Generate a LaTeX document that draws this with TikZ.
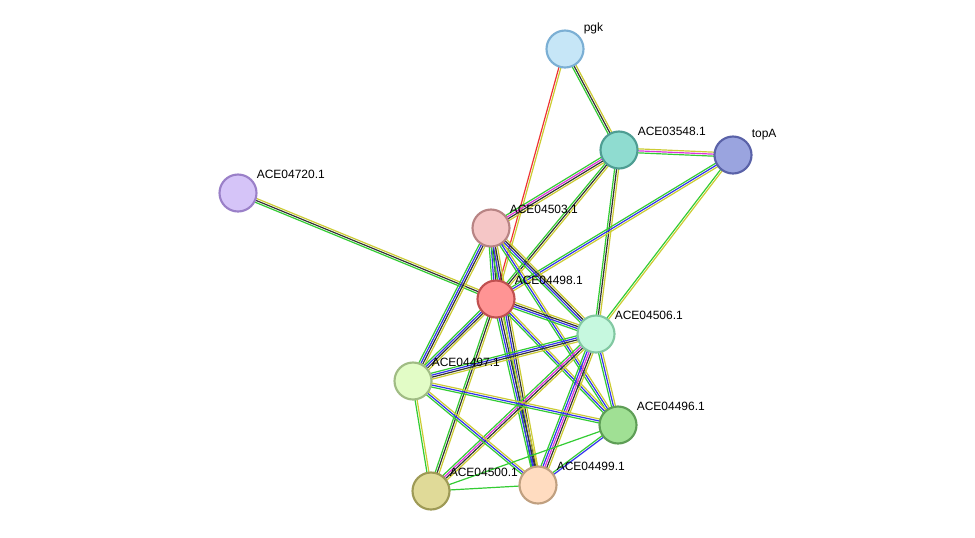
\documentclass[tikz,border=0pt]{standalone}
\usepackage{fontspec}
\setmainfont{Liberation Sans}
\usetikzlibrary{calc}
\definecolor{eGreen}{HTML}{33CC33}
\definecolor{eYellow}{HTML}{CCCC33}
\definecolor{eBlue}{HTML}{3333EE}
\definecolor{eMag}{HTML}{DD33DD}
\definecolor{eRed}{HTML}{EE3333}
\definecolor{eDark}{HTML}{333333}
\definecolor{bPgk}{HTML}{7BAFD4}\definecolor{fPgk}{HTML}{C6E6F7}
\definecolor{bA}{HTML}{4E9E93}\definecolor{fA}{HTML}{8FDCD0}
\definecolor{bTop}{HTML}{5A62A8}\definecolor{fTop}{HTML}{9AA4DF}
\definecolor{bB}{HTML}{9A80C8}\definecolor{fB}{HTML}{D5C4F8}
\definecolor{bC}{HTML}{B88484}\definecolor{fC}{HTML}{F5C6C6}
\definecolor{bD}{HTML}{C05050}\definecolor{fD}{HTML}{FF9494}
\definecolor{bE}{HTML}{82C8A2}\definecolor{fE}{HTML}{C6F8DF}
\definecolor{bF}{HTML}{A0BC84}\definecolor{fF}{HTML}{E2FCC6}
\definecolor{bG}{HTML}{5E9E56}\definecolor{fG}{HTML}{A0E094}
\definecolor{bH}{HTML}{9E9A56}\definecolor{fH}{HTML}{E0DA98}
\definecolor{bI}{HTML}{C0A080}\definecolor{fI}{HTML}{FFDCC0}
\tikzset{
  prot/.style 2 args={circle, draw=#1, fill=#2, line width=1.6pt, minimum size=37\pxu, inner sep=0pt},
  lab/.style={label={[label distance=-4pt, xshift=3pt, font=\fontsize{9}{10}\selectfont]45:#1}},
}
\newlength{\pxu}\setlength{\pxu}{0.75pt}
% draws parallel coloured lines between two nodes
\newcommand{\edge}[3]{%
  \foreach \c [count=\i] in {#3} {\global\let\ncol\i}%
  \foreach \c [count=\i] in {#3} {
    \pgfmathsetmacro{\off}{(\i-(\ncol+1)/2)*1.5}
    \draw[\c, line width=0.9pt] ($(#1)!\off pt!90:(#2)$) -- ($(#2)!\off pt!-90:(#1)$);
  }}
\begin{document}
\begin{tikzpicture}[x=0.75pt, y=-0.75pt]
\useasboundingbox (0,0) rectangle (975,537);
% positions
\coordinate (pgk) at (565,49);
\coordinate (c548) at (619,150);
\coordinate (topA) at (733,155);
\coordinate (c720) at (238,193);
\coordinate (c503) at (491,228);
\coordinate (c498) at (496,299);
\coordinate (c506) at (596,334);
\coordinate (c497) at (413,381);
\coordinate (c496) at (618,425);
\coordinate (c500) at (431,491);
\coordinate (c499) at (538,485);
% edges
\edge{pgk}{c548}{eGreen,eDark,eYellow}
\edge{pgk}{c498}{eRed,eYellow}
\edge{c548}{topA}{eGreen,eMag,eYellow}
\edge{c548}{c503}{eGreen,eMag,eDark,eYellow}
\edge{c548}{c498}{eGreen,eDark,eYellow}
\edge{c548}{c506}{eGreen,eDark,eYellow}
\edge{topA}{c498}{eGreen,eBlue,eYellow}
\edge{topA}{c506}{eGreen,eYellow}
\edge{c720}{c498}{eGreen,eDark,eYellow}
\edge{c503}{c498}{eGreen,eBlue,eDark,eYellow}
\edge{c503}{c497}{eGreen,eBlue,eDark,eYellow}
\edge{c503}{c506}{eGreen,eBlue,eDark,eYellow}
\edge{c503}{c496}{eGreen,eBlue,eYellow}
\edge{c503}{c499}{eGreen,eBlue,eDark,eYellow}
\edge{c498}{c506}{eGreen,eBlue,eDark,eYellow}
\edge{c498}{c497}{eGreen,eBlue,eDark,eYellow}
\edge{c498}{c496}{eGreen,eBlue,eYellow}
\edge{c498}{c499}{eGreen,eBlue,eDark,eYellow}
\edge{c498}{c500}{eGreen,eDark,eYellow}
\edge{c506}{c497}{eGreen,eBlue,eDark,eYellow}
\edge{c506}{c496}{eGreen,eBlue,eYellow}
\edge{c506}{c499}{eGreen,eBlue,eMag,eDark,eYellow}
\edge{c506}{c500}{eGreen,eMag,eDark,eYellow}
\edge{c497}{c496}{eGreen,eBlue,eYellow}
\edge{c497}{c499}{eGreen,eBlue,eYellow}
\edge{c497}{c500}{eGreen,eYellow}
\edge{c496}{c500}{eGreen}
\edge{c496}{c499}{eGreen,eBlue}
\edge{c500}{c499}{eGreen}
% proteins
\node[prot={bPgk}{fPgk}, lab=pgk] (npgk) at (pgk) {};
\node[prot={bA}{fA}, lab=ACE03548.1] (n548) at (c548) {};
\node[prot={bTop}{fTop}, lab=topA] (ntopA) at (topA) {};
\node[prot={bB}{fB}, lab=ACE04720.1] (n720) at (c720) {};
\node[prot={bC}{fC}, lab=ACE04503.1] (n503) at (c503) {};
\node[prot={bD}{fD}, lab=ACE04498.1] (n498) at (c498) {};
\node[prot={bE}{fE}, lab=ACE04506.1] (n506) at (c506) {};
\node[prot={bF}{fF}, lab=ACE04497.1] (n497) at (c497) {};
\node[prot={bG}{fG}, lab=ACE04496.1] (n496) at (c496) {};
\node[prot={bH}{fH}, lab=ACE04500.1] (n500) at (c500) {};
\node[prot={bI}{fI}, lab=ACE04499.1] (n499) at (c499) {};
\end{tikzpicture}
\end{document}
